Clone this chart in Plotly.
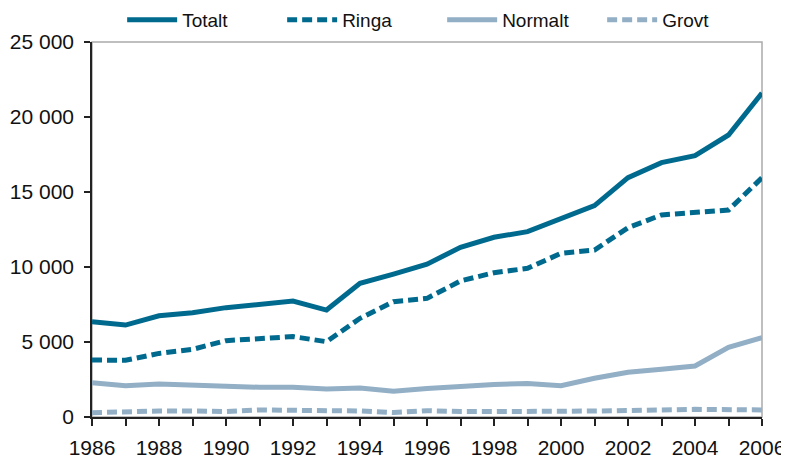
import plotly.graph_objects as go

years = list(range(1986, 2007))
totalt = [6350, 6130, 6750, 6950, 7290, 7530, 7730, 7130, 8910, 9530, 10190,
          11310, 11980, 12360, 13200, 14090, 15960, 16960, 17420, 18800, 21600]
ringa = [3800, 3780, 4240, 4510, 5090, 5200, 5360, 5020, 6580, 7690, 7910,
         9070, 9620, 9910, 10910, 11130, 12620, 13470, 13640, 13800, 15950]
normalt = [2290, 2090, 2200, 2130, 1980, 1980, 1980, 1870, 1930, 1710, 1900,
           2070, 2170, 2240, 2090, 2580, 2980, 3180, 3400, 4640, 5290]
grovt = [290, 360, 400, 400, 360, 470, 470, 400, 400, 300, 420,
         360, 340, 340, 380, 400, 470, 470, 510, 470, 470]

ytickvals = [0, 5000, 10000, 15000, 20000, 25000]
yticktext = ["0", "5 000", "10 000", "15 000", "20 000", "25 000"]

dark = "#006A8E"
light = "#92AFC6"

fig = go.Figure()
series = [
    ("Totalt", totalt, dark, "solid"),
    ("Ringa", ringa, dark, "10px,5px"),
    ("Normalt", normalt, light, "solid"),
    ("Grovt", grovt, light, "10px,5px"),
]
for name, vals, col, dash in series:
    fig.add_trace(go.Scatter(x=years, y=vals, name=name, mode="lines",
                             line=dict(color=col, width=5, dash=dash)))

font = "Liberation Sans, Arial, sans-serif"
fig.update_layout(
    width=781, height=449,
    margin=dict(l=84, r=27, t=34, b=40, autoexpand=False),
    paper_bgcolor="white", plot_bgcolor="white",
    font=dict(family=font, size=20, color="#111"),
    showlegend=True,
    legend=dict(orientation="h", x=0.045, xanchor="left", y=1.059, yanchor="middle",
                font=dict(size=19), traceorder="normal", itemwidth=50,
                entrywidth=95, bgcolor="rgba(0,0,0,0)"),
    xaxis=dict(range=[1986, 2006], tickvals=list(range(1986, 2007, 2)),
               ticks="outside", ticklen=7, tickcolor="#222", tickwidth=1.5,
               showline=True, linecolor="#222", linewidth=1.5,
               showgrid=False, zeroline=False, ticklabelstandoff=4,
               minor=dict(dtick=1, ticks="outside", ticklen=7, tickcolor="#222", tickwidth=1.5),
               tickfont=dict(size=21)),
    yaxis=dict(range=[0, 25000], tickvals=ytickvals, ticktext=yticktext,
               ticks="outside", ticklen=6, tickcolor="#222", tickwidth=1.5,
               showline=True, linecolor="#222", linewidth=1.5, ticklabelstandoff=6,
               showgrid=False, zeroline=False, tickfont=dict(size=21)),
    shapes=[dict(type="rect", xref="paper", yref="paper", x0=0, x1=1, y0=0, y1=1,
                 line=dict(color="#AAAAAA", width=1.5), layer="below")],
)

fig.write_html("out.html")
